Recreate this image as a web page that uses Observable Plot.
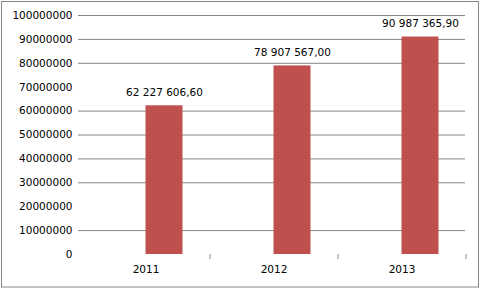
<!DOCTYPE html>
<html>
<head>
<meta charset="utf-8">
<script src="https://cdn.jsdelivr.net/npm/d3@7"></script>
<script src="https://cdn.jsdelivr.net/npm/@observablehq/plot@0.6"></script>
<style>
  html, body { margin: 0; padding: 0; background: #fff; }
  #chart svg { display: block; }
</style>
</head>
<body>
<div id="chart"></div>
<script>
const years = ["2011", "2012", "2013"];
const values = [62227606.60, 78907567.00, 90987365.90];
const yTicks = [0, 10000000, 20000000, 30000000, 40000000, 50000000, 60000000, 70000000, 80000000, 90000000, 100000000];
const gridValues = [10000000, 30000000, 40000000, 50000000, 60000000, 80000000, 90000000, 100000000];

const data = years.map((y, i) => ({year: y, value: values[i]}));
const ruFmt = d3.formatLocale({decimal: ",", thousands: " ", grouping: [3], currency: ["", ""]}).format(",.2f");

const gray = "#868686";
const font = "DejaVu Sans, sans-serif";

const chart = Plot.plot({
  width: 481,
  height: 289,
  marginLeft: 78,
  marginRight: 16,
  marginTop: 15,
  marginBottom: 35,
  style: {fontFamily: font, fontSize: "10.5px", color: "#000", background: "#fff"},
  x: {domain: years, range: [81, 465], paddingInner: 0.711, paddingOuter: 0.3555, label: null},
  y: {domain: [0, 100000000], label: null},
  marks: [
    Plot.ruleY(gridValues, {stroke: gray, strokeWidth: 1, strokeOpacity: 1}),
    Plot.axisY({ticks: yTicks, tickSize: 0, tickPadding: 6, tickFormat: d => String(d), fill: "#000", label: null}),
    Plot.axisX({tickSize: 5, dx: 64, tickFormat: () => "", stroke: gray, label: null}),
    Plot.axisX({tickSize: 0, tickPadding: 11, fill: "#000", label: null}),
    Plot.barY(data, {x: "year", y: "value", fill: "#c0504d", dx: 18.5}),
    Plot.text(data, {x: "year", y: "value", text: d => ruFmt(d.value), dx: 18.5, dy: -10, lineAnchor: "bottom", fill: "#000"})
  ]
});

d3.select(chart).append("rect")
  .attr("x", 1.5).attr("y", 1.5).attr("width", 477).attr("height", 285.5)
  .attr("fill", "none").attr("stroke", gray).attr("stroke-width", 1);

document.getElementById("chart").appendChild(chart);
</script>
</body>
</html>
